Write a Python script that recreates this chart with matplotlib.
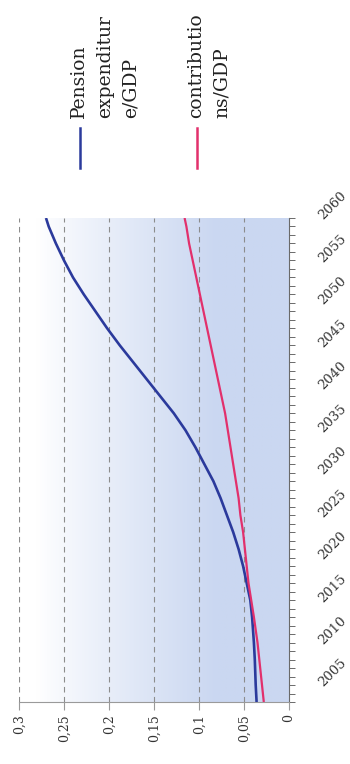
import numpy as np
import matplotlib.pyplot as plt
from matplotlib.lines import Line2D
from matplotlib.colors import to_rgb

years = [2003, 2005, 2008, 2010, 2013, 2015, 2017, 2019, 2021, 2023, 2025, 2027, 2029,
         2031, 2033, 2035, 2037, 2039, 2041, 2043, 2045, 2047, 2049, 2051, 2053, 2055,
         2057, 2059, 2060]
pension_exp = [0.036, 0.037, 0.038, 0.039, 0.041, 0.043, 0.047, 0.051, 0.056, 0.062, 0.069,
               0.076, 0.084, 0.094, 0.104, 0.115, 0.128, 0.143, 0.158, 0.173, 0.188, 0.202,
               0.215, 0.228, 0.240, 0.250, 0.259, 0.267, 0.270]
contributions = [0.028, 0.030, 0.033, 0.035, 0.039, 0.042, 0.045, 0.047, 0.049, 0.051, 0.054,
                 0.056, 0.059, 0.062, 0.065, 0.068, 0.071, 0.075, 0.079, 0.083, 0.087, 0.091,
                 0.095, 0.099, 0.103, 0.107, 0.111, 0.114, 0.116]

value_ticks = [0, 0.05, 0.1, 0.15, 0.2, 0.25, 0.3]
value_labels = ['0', '0,05', '0,1', '0,15', '0,2', '0,25', '0,3']
year_ticks = list(range(2005, 2061, 5))

series_names = ['Pension\nexpenditur\ne/GDP', 'contributio\nns/GDP']
blue = '#2b3a9c'
pink = '#e2306c'

plt.rcParams['font.family'] = ['DejaVu Serif']

W, H = 350, 764
fig = plt.figure(figsize=(W / 100, H / 100), dpi=100)
ax = fig.add_axes([19 / W, 1 - 702 / H, 270 / W, 484 / H])

# chart is drawn turned a quarter turn: values run right-to-left, years upward
ax.set_xlim(0.3, 0)
ax.set_ylim(2003, 2060)

# light blue gradient background
vals = np.linspace(0.3, 0, 300)
f = np.clip((0.28 - vals) / 0.2, 0, 1) ** 0.9
c0 = np.array(to_rgb('#ffffff'))
c1 = np.array(to_rgb('#cad7f1'))
grad = c0[None, :] * (1 - f[:, None]) + c1[None, :] * f[:, None]
img = np.repeat(grad[None, :, :], 2, axis=0)
ax.imshow(img, extent=[0.3, 0, 2003, 2060], aspect='auto', zorder=0, interpolation='bilinear')

ax.plot(pension_exp, years, color=blue, lw=1.9, zorder=3, solid_capstyle='butt')
ax.plot(contributions, years, color=pink, lw=1.6, zorder=3, solid_capstyle='butt')

for v in value_ticks[1:]:
    ax.axvline(v, color='#8c8c8c', lw=0.8, ls=(0, (5, 4)), zorder=1)

for s in ['top', 'left']:
    ax.spines[s].set_visible(False)
ax.spines['bottom'].set_color('#9a9a9a')
ax.spines['right'].set_color('#6a6a6a')

ax.set_xticks(value_ticks)
ax.set_xticklabels(value_labels, rotation=90, fontsize=9, color='#333333')
ax.tick_params(axis='x', direction='out', length=6, width=0.8, color='#9a9a9a', pad=3)

ax.yaxis.tick_right()
ax.set_yticks(year_ticks)
ax.set_yticks(range(2003, 2061), minor=True)
ax.set_yticklabels([str(y) for y in year_ticks], rotation=45, fontsize=9.5,
                   ha='left', va='center', rotation_mode='anchor', color='#333333')
ax.tick_params(axis='y', which='both', direction='out', length=4, width=0.7,
               color='#6a6a6a', pad=19)

# legend, turned like the rest
for x, col, name in [(80, blue, series_names[0]), (197, pink, series_names[1])]:
    fig.add_artist(Line2D([x / W, x / W], [1 - 128 / H, 1 - 168 / H], color=col, lw=1.8))
    fig.text((x - 10) / W, 1 - 118 / H, name, rotation=90, ha='left', va='bottom',
             fontsize=13.5, linespacing=1.55, multialignment='left', color='#222222')

fig.savefig('out.png', dpi=100)
